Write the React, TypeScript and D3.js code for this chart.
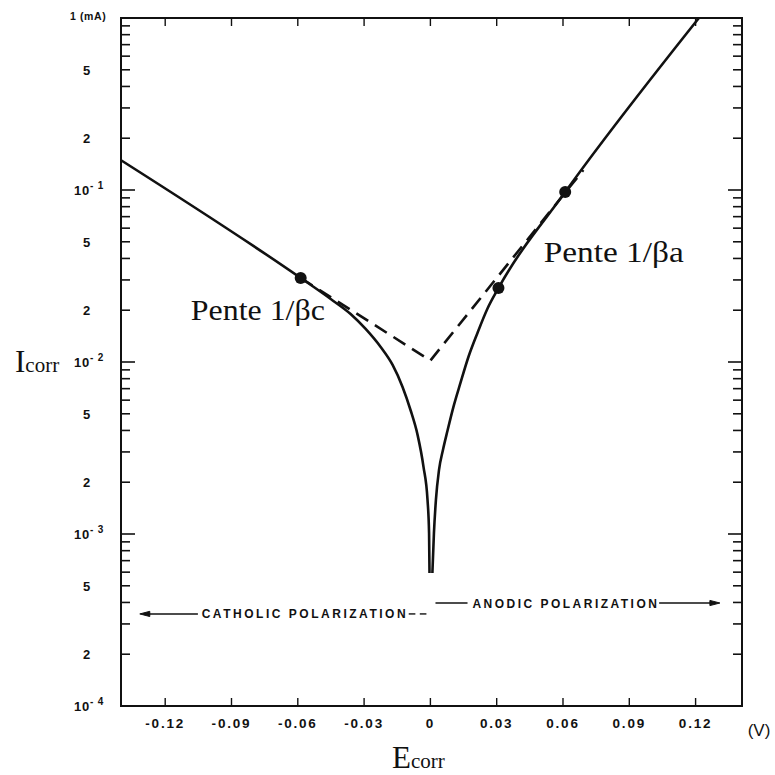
import { scaleLinear, scaleLog, line, curveMonotoneX, curveLinear } from "d3";

// potential (V) vs current (mA)
const cathodicE = [-0.14, -0.0587, -0.0451, -0.0361, -0.0293, -0.0225, -0.0171, -0.0126, -0.009, -0.0058, -0.0031, -0.0013, -0.0006, -0.0004];
const cathodicI = [0.149, 0.0308, 0.02323, 0.01901, 0.01556, 0.01222, 0.00961, 0.00716, 0.00526, 0.00377, 0.00245, 0.00158, 0.00101, 0.000593];
const anodicE = [0.0009, 0.0016, 0.0025, 0.0039, 0.0057, 0.0077, 0.0104, 0.0136, 0.0172, 0.0213, 0.0258, 0.0308, 0.061, 0.1215];
const anodicI = [0.000593, 0.00101, 0.00158, 0.00236, 0.00309, 0.00397, 0.00547, 0.00755, 0.01069, 0.01475, 0.0204, 0.0269, 0.0973, 1.0];
const tafelE = [-0.0587, 0, 0.0692];
const tafelI = [0.0308, 0.0102, 0.1306];
const dotE = [-0.0587, 0.0308, 0.061];
const dotI = [0.0308, 0.0269, 0.0973];

const eTicks = [-0.12, -0.09, -0.06, -0.03, 0, 0.03, 0.06, 0.09, 0.12];
const eTickLabels = ["-0.12", "-0.09", "-0.06", "-0.03", "0", "0.03", "0.06", "0.09", "0.12"];
const iLabelValues = [1, 0.5, 0.2, 0.1, 0.05, 0.02, 0.01, 0.005, 0.002, 0.001, 0.0005, 0.0002, 0.0001];
const iLabelBase = ["1 (mA)", "5", "2", "10", "5", "2", "10", "5", "2", "10", "5", "2", "10"];
const iLabelExp = ["", "", "", "-1", "", "", "-2", "", "", "-3", "", "", "-4"];

const W = 775;
const H = 775;
const left = 121;
const right = 742;
const top = 18;
const bottom = 706;

const ink = "#111";
const labelFont = "'Liberation Sans', Arial, sans-serif";
const serif = "'Liberation Serif', 'Times New Roman', serif";

export default function App() {
  const x = scaleLinear().domain([-0.14, 0.141]).range([left, right]);
  const y = scaleLog().domain([1e-4, 1]).range([bottom, top]);

  const path = (es: number[], is: number[], curve = curveMonotoneX) =>
    line<number>()
      .x((_, k) => x(es[k]))
      .y((_, k) => y(is[k]))
      .curve(curve)(es) || "";

  // minor ticks for every decade
  const minor: { v: number; major: boolean }[] = [];
  for (let d = -4; d < 0; d++) {
    for (let m = 1; m <= 9; m++) minor.push({ v: m * Math.pow(10, d), major: m === 1 });
  }
  minor.push({ v: 1, major: true });

  const yCath = y(3.43e-4);
  const yAnod = y(3.97e-4);

  return (
    <svg
      width={W}
      height={H}
      viewBox={`0 0 ${W} ${H}`}
      style={{ position: "absolute", left: 0, top: 0, background: "#fff" }}
    >
      {/* frame */}
      <rect x={left} y={top} width={right - left} height={bottom - top} fill="none" stroke={ink} strokeWidth={2} />

      {/* y ticks, both sides, pointing inward */}
      {minor.map((t, k) => {
        const len = t.major ? 14 : 9;
        const py = y(t.v);
        return (
          <g key={k} stroke={ink} strokeWidth={1.6}>
            <line x1={left} x2={left + len} y1={py} y2={py} />
            <line x1={right} x2={right - len} y1={py} y2={py} />
          </g>
        );
      })}

      {/* x ticks, bottom and top */}
      {eTicks.map((e, k) => (
        <g key={k} stroke={ink} strokeWidth={1.4}>
          <line x1={x(e)} x2={x(e)} y1={bottom} y2={bottom - 8} />
          <line x1={x(e)} x2={x(e)} y1={top} y2={top + 8} />
        </g>
      ))}

      {/* y tick labels */}
      {iLabelValues.map((v, k) => {
        const isDecade = iLabelExp[k] !== "";
        const isTop = k === 0;
        return (
          <text
            key={k}
            x={isTop ? 70 : isDecade ? 74 : 87}
            y={y(v) + (isTop ? 2 : 5)}
            textAnchor={isDecade || isTop ? "start" : "middle"}
            fontFamily={labelFont}
            fontWeight="bold"
            fontSize={isTop ? 10.5 : 13}
            letterSpacing={isTop ? 0.6 : 0.8}
            fill={ink}
          >
            {iLabelBase[k]}
            {isDecade && (
              <tspan dy={-6} fontSize={10}>
                {iLabelExp[k].replace("-", "- ")}
              </tspan>
            )}
          </text>
        );
      })}

      {/* x tick labels */}
      {eTicks.map((e, k) => (
        <text
          key={k}
          x={x(e)}
          y={bottom + 22}
          textAnchor="middle"
          fontFamily={labelFont}
          fontWeight="bold"
          fontSize={13.5}
          letterSpacing={1.8}
          fill={ink}
        >
          {eTickLabels[k]}
        </text>
      ))}
      <text x={759} y={736} textAnchor="middle" fontFamily={labelFont} fontSize={17} fill={ink}>
        (V)
      </text>

      {/* axis titles */}
      <text x={15} y={372} fontFamily={serif} fontSize={31} fill={ink}>
        I<tspan fontSize={21}>corr</tspan>
      </text>
      <text x={392} y={768} fontFamily={serif} fontSize={31} fill={ink}>
        E<tspan fontSize={21}>corr</tspan>
      </text>

      {/* tafel extrapolation */}
      <path
        d={path(tafelE, tafelI, curveLinear)}
        fill="none"
        stroke={ink}
        strokeWidth={2.6}
        strokeDasharray="14 8"
      />

      {/* polarization curve */}
      <path d={path(cathodicE, cathodicI)} fill="none" stroke={ink} strokeWidth={2.6} />
      <path d={path(anodicE, anodicI)} fill="none" stroke={ink} strokeWidth={2.6} />

      {dotE.map((e, k) => (
        <circle key={k} cx={x(e)} cy={y(dotI[k])} r={6} fill={ink} />
      ))}

      <text
        x={x(-0.1084)}
        y={y(0.01754)}
        fontFamily={serif}
        fontSize={29}
        textLength={134}
        lengthAdjust="spacingAndGlyphs"
        fill={ink}
      >
        Pente 1/βc
      </text>
      <text
        x={x(0.0513)}
        y={y(0.0381)}
        fontFamily={serif}
        fontSize={29}
        textLength={140}
        lengthAdjust="spacingAndGlyphs"
        fill={ink}
      >
        Pente 1/βa
      </text>

      {/* polarization direction labels */}
      <g stroke={ink} strokeWidth={1.4}>
        <line x1={x(-0.1052)} x2={x(-0.128)} y1={yCath} y2={yCath} />
        <line x1={x(-0.0098)} x2={x(-0.0068)} y1={yCath} y2={yCath} />
        <line x1={x(-0.0048)} x2={x(-0.0018)} y1={yCath} y2={yCath} />
        <line x1={x(0.0023)} x2={x(0.0168)} y1={yAnod} y2={yAnod} />
        <line x1={x(0.1035)} x2={x(0.128)} y1={yAnod} y2={yAnod} />
      </g>
      <path d={`M${x(-0.1315)},${yCath} l10,-2.6 v5.2 z`} fill={ink} stroke={ink} strokeWidth={1} />
      <path d={`M${x(0.131)},${yAnod} l-10,-2.6 v5.2 z`} fill={ink} stroke={ink} strokeWidth={1} />
      <text
        x={x(-0.1035)}
        y={yCath + 4.5}
        fontFamily={labelFont}
        fontWeight="bold"
        fontSize={12}
        textLength={x(-0.0112) - x(-0.1035)}
        lengthAdjust="spacing"
        fill={ink}
      >
        CATHOLIC POLARIZATION
      </text>
      <text
        x={x(0.019)}
        y={yAnod + 4.5}
        fontFamily={labelFont}
        fontWeight="bold"
        fontSize={12}
        textLength={x(0.1025) - x(0.019)}
        lengthAdjust="spacing"
        fill={ink}
      >
        ANODIC POLARIZATION
      </text>
    </svg>
  );
}
